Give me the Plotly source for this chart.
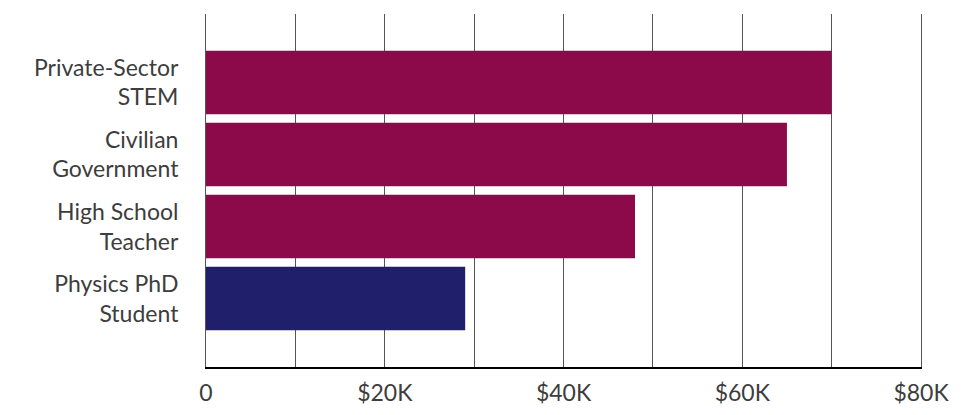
import plotly.graph_objects as go

categories = ["Physics PhD<br>Student", "High School<br>Teacher", "Civilian<br>Government", "Private-Sector<br>STEM"]
values = [29000, 48000, 65000, 70000]
colors = ["#1F1F6B", "#8C0A4A", "#8C0A4A", "#8C0A4A"]
tick_vals = [0, 10000, 20000, 30000, 40000, 50000, 60000, 70000, 80000]
tick_text = ["0", "", "$20K", "", "$40K", "", "$60K", "", "$80K"]

fig = go.Figure(go.Bar(
    y=categories, x=values, orientation="h",
    marker=dict(color=colors, line=dict(width=0)),
    width=0.88,
))

fig.update_layout(
    width=972, height=415,
    margin=dict(l=198, r=59, t=6, b=56),
    paper_bgcolor="white", plot_bgcolor="white",
    font=dict(family="Lato, sans-serif", color="#3d3d3d"),
    showlegend=False,
    bargap=0.12,
)
fig.update_xaxes(
    range=[0, 80000], tickvals=tick_vals, ticktext=tick_text,
    showgrid=True, gridcolor="#555555", gridwidth=1,
    showline=True, linecolor="#000000", linewidth=1.5,
    zeroline=False, tickfont=dict(size=23, color="#3d3d3d"),
    ticks="", ticklabelstandoff=5, automargin=False,
)
fig.update_yaxes(
    range=[-0.95, 3.95], showgrid=False, zeroline=False,
    showline=True, mirror=True, linecolor="#555555", linewidth=1,
    tickfont=dict(size=23, color="#3d3d3d"), ticks="",
    ticklabelstandoff=22, automargin=False,
)

fig.write_html("out.html")
